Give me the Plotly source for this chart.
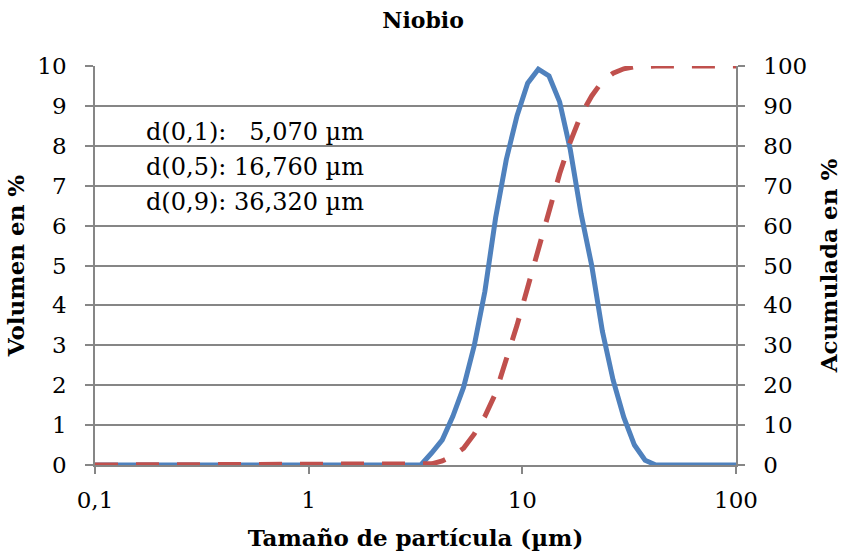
import plotly.graph_objects as go

# ---- data ----
sizes_um = [0.1, 3.35, 3.76, 4.22, 4.73, 5.31, 5.96, 6.68, 7.50, 8.41, 9.44, 10.59, 11.88,
            13.33, 14.95, 16.77, 18.82, 21.12, 23.70, 26.59, 29.83, 33.47, 37.55, 42.13, 100]
volumen_pct = [0, 0, 0.3, 0.63, 1.22, 1.95, 3.0, 4.35, 6.2, 7.65, 8.75, 9.57, 9.92,
               9.75, 9.1, 7.9, 6.3, 5.0, 3.35, 2.13, 1.2, 0.5, 0.12, 0, 0]
acumulada_pct = [0, 0, 0.3, 1.0, 2.3, 4.2, 7.8, 12.2, 18, 26.5, 35, 44.5, 54.3,
                 64, 73, 81, 87.8, 92.5, 96.2, 98.2, 99.3, 99.8, 100, 100, 100]

x_tick_vals = [0.1, 1, 10, 100]
x_tick_text = ["0,1", "1", "10", "100"]
y_left_ticks = list(range(0, 11))
y_right_ticks = list(range(0, 101, 10))

stats_lines = ["d(0,1):\u00a0\u00a0\u00a05,070 µm",
               "d(0,5): 16,760 µm",
               "d(0,9): 36,320 µm"]
stats_y = [8.35, 7.47, 6.59]

title = "Niobio"
x_title = "Tamaño de partícula (µm)"
y_title = "Volumen en %"
y2_title = "Acumulada en %"

FONT = "DejaVu Serif"
GRAY = "#868686"

fig = go.Figure()
fig.add_trace(go.Scatter(x=sizes_um, y=volumen_pct, mode="lines",
                         line=dict(color="#4F81BD", width=5),
                         showlegend=False, yaxis="y"))
fig.add_trace(go.Scatter(x=sizes_um, y=acumulada_pct, mode="lines",
                         line=dict(color="#C0504D", width=5, dash="23px,18px"),
                         showlegend=False, yaxis="y2"))

# white box behind statistics text (covers gridlines)
fig.add_shape(type="rect", xref="paper", yref="y", x0=0.045, x1=0.54, y0=5.75, y1=9.25,
              fillcolor="white", line=dict(width=0), layer="between")

for txt, yy in zip(stats_lines, stats_y):
    fig.add_annotation(text=txt, xref="paper", yref="y", x=0.077, y=yy,
                       xanchor="left", yanchor="middle", showarrow=False,
                       font=dict(family=FONT, size=24, color="black"))

fig.update_layout(
    width=842, height=554,
    margin=dict(l=95, r=106, t=66, b=89),
    paper_bgcolor="white", plot_bgcolor="white",
    title=dict(text="<b>%s</b>" % title, x=0.5025, xanchor="center", y=0.963, yanchor="middle",
               font=dict(family=FONT, size=22, color="black")),
    xaxis=dict(type="log", range=[-1, 2], tickvals=x_tick_vals, ticktext=x_tick_text,
               showgrid=False, showline=True, linecolor=GRAY, linewidth=1.5,
               ticks="outside", ticklen=7, tickcolor=GRAY, tickwidth=1.5,
               ticklabelstandoff=7, automargin=False,
               tickfont=dict(family=FONT, size=23, color="black"),
               title=dict(text="<b>%s</b>" % x_title, standoff=18,
                          font=dict(family=FONT, size=23, color="black")),
               zeroline=False),
    yaxis=dict(range=[0, 10], tickvals=y_left_ticks, showgrid=True, gridcolor=GRAY, gridwidth=1.5,
               showline=True, linecolor=GRAY, linewidth=1.5,
               ticks="outside", ticklen=8, tickcolor=GRAY, tickwidth=1.5,
               ticklabelstandoff=14, automargin=False,
               tickfont=dict(family=FONT, size=23, color="black"),
               title=dict(text="<b>%s</b>" % y_title, standoff=6,
                          font=dict(family=FONT, size=23, color="black")),
               zeroline=False),
    yaxis2=dict(range=[0, 100], tickvals=y_right_ticks, overlaying="y", side="right",
                showgrid=False, showline=True, linecolor=GRAY, linewidth=1.5,
                ticks="outside", ticklen=7, tickcolor=GRAY, tickwidth=1.5,
                ticklabelstandoff=14, automargin=False,
                tickfont=dict(family=FONT, size=23, color="black"),
                title=dict(text="<b>%s</b>" % y2_title, standoff=15,
                           font=dict(family=FONT, size=23, color="black")),
                zeroline=False),
)

fig.write_html("out.html")
